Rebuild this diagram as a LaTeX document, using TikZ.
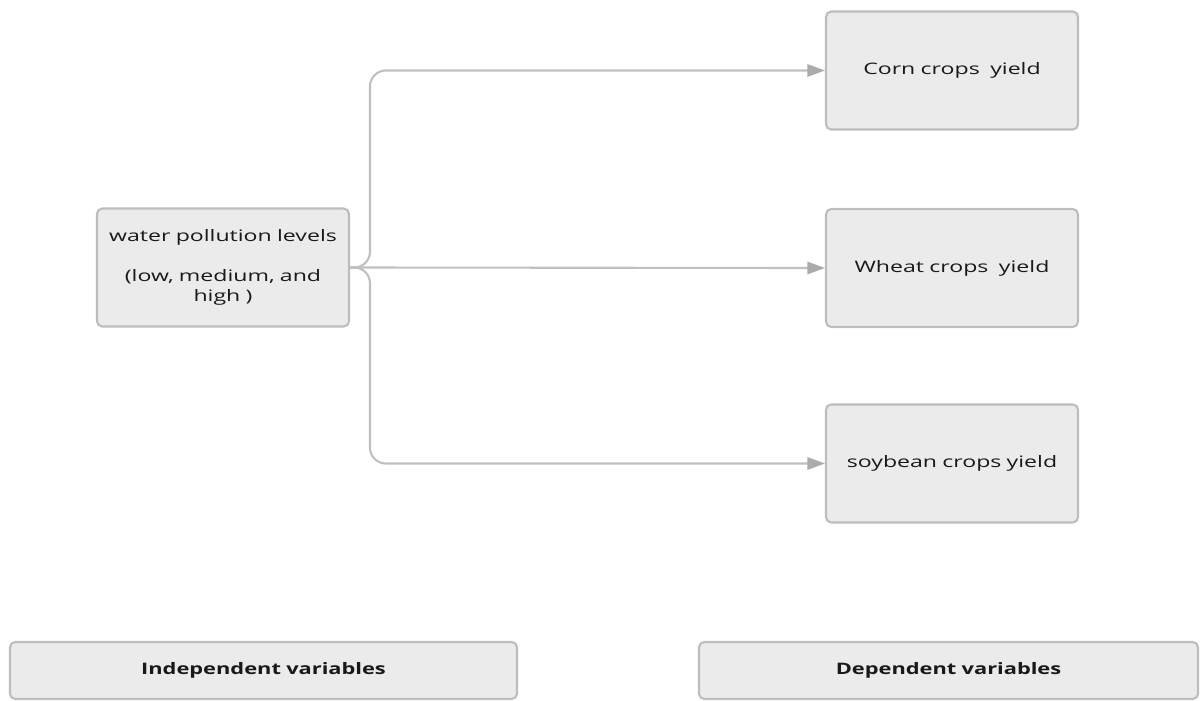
\documentclass[tikz,border=0pt]{standalone}
\usepackage{fontspec}
\setmainfont{Open Sans}[FakeStretch=1.46, BoldFeatures={FakeStretch=1.38}]
\usetikzlibrary{arrows.meta}
\usetikzlibrary{positioning}

\definecolor{boxfill}{HTML}{EBEBEB}
\definecolor{boxline}{HTML}{BDBDBD}
\definecolor{linkline}{HTML}{C0C0C0}
\definecolor{tipfill}{HTML}{ABABAB}

\tikzset{
  varbox/.style={draw=boxline, fill=boxfill, line width=1.2pt, rounded corners=3pt,
    inner sep=0pt, minimum width=5.04cm, minimum height=2.36cm, align=center,
    text width=4.7cm, font=\fontsize{9}{11.3}\selectfont, text=black!90},
  legendbox/.style={varbox, minimum height=1.14cm, text width=9.5cm,
    font=\fontsize{9}{11}\selectfont\bfseries},
  link/.style={draw=linkline, line width=1.2pt, rounded corners=9pt,
    -{Triangle[length=10pt,width=7pt,color=tipfill,fill=tipfill]}}
}

\begin{document}
\begin{tikzpicture}

            \useasboundingbox (0,0) rectangle (24,-14);

            \node[varbox] (pollution) at (4.46,-5.35)
                {water pollution levels\\[11.3pt](low, medium, and\\high )};
            \node[varbox] (corn)      at (19.04,-1.41) {Corn crops\ \ yield};
            \node[varbox] (wheat)     at (19.04,-5.36) {Wheat crops\ \ yield};
            \node[varbox] (soybean)   at (19.04,-9.27) {soybean crops yield};

            \node[legendbox, minimum width=10.14cm] (indep) at (5.27,-13.41) {Independent variables};
            \node[legendbox, minimum width=9.98cm]  (dep)   at (18.97,-13.41) {Dependent variables};

            \coordinate (bus) at (7.4,-5.35);
            \draw[link] (pollution.east) -- (bus) |- (corn.west);
            \draw[link] (pollution.east) -- (wheat.west);
            \draw[link] (pollution.east) -- (bus) |- (soybean.west);

        \end{tikzpicture}
\end{document}
